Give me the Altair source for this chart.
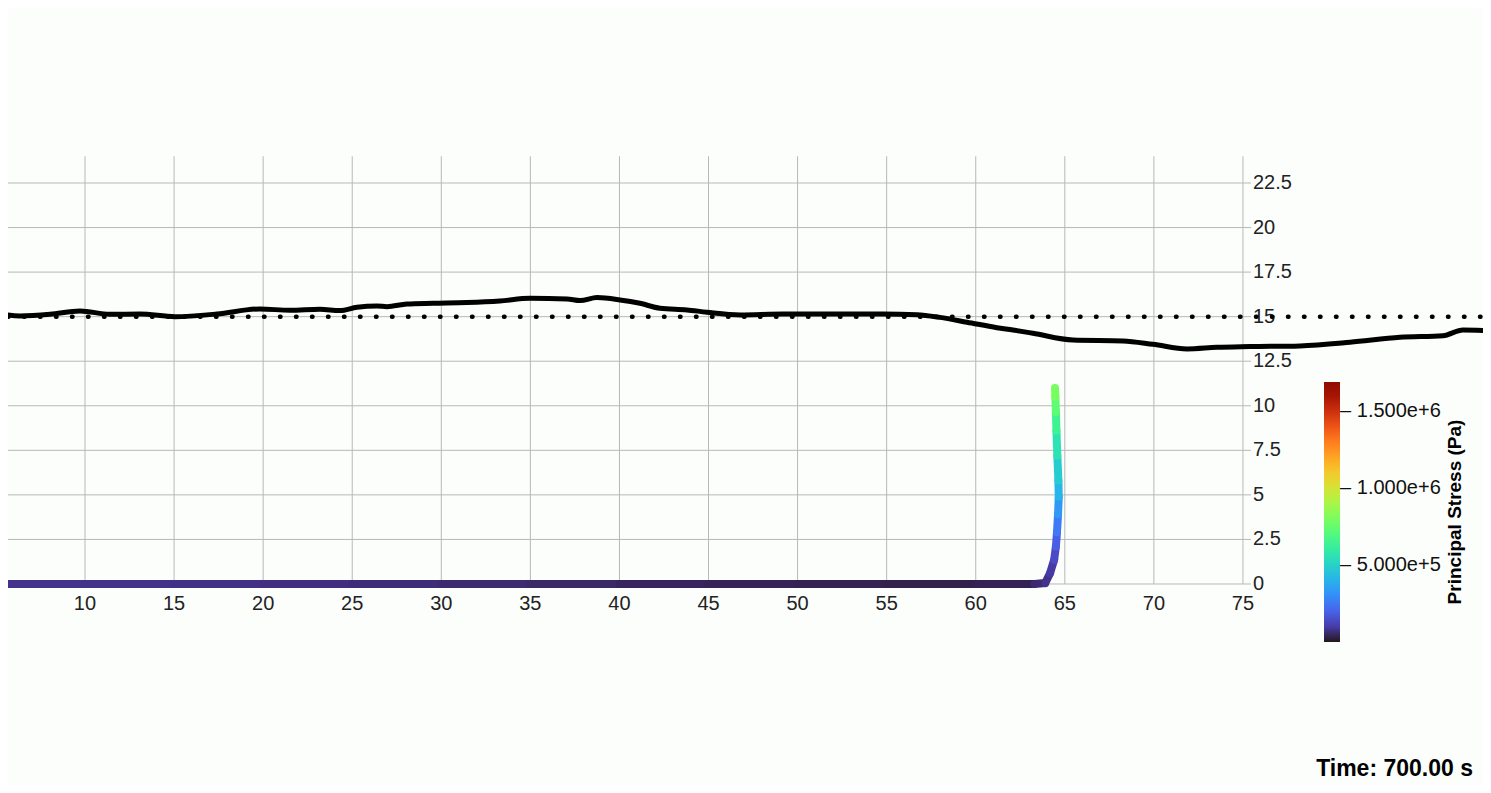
import altair as alt
import pandas as pd

# ---------------- data ----------------
# upper black profile
surf_x = [5.23, 6.35, 8.04, 9.72, 11.40, 13.09, 15.05, 17.41, 19.82, 21.51,
          23.19, 24.31, 25.27, 26.39, 26.95, 28.07, 29.53, 31.44, 33.29, 34.98,
          37.06, 37.79, 38.74, 40.03, 41.15, 42.28, 43.79, 44.91, 46.77, 49.18,
          51.99, 54.79, 56.70, 57.99, 59.51, 61.19, 62.09, 63.21, 65.46, 68.27,
          69.95, 71.86, 73.54, 75.40, 78.20, 81.01, 83.81, 86.23, 87.35, 88.92]
surf_y = [15.15, 15.04, 15.13, 15.32, 15.13, 15.15, 15.00, 15.15, 15.43, 15.36,
          15.42, 15.34, 15.53, 15.60, 15.56, 15.71, 15.75, 15.79, 15.88, 16.03,
          15.99, 15.90, 16.07, 15.94, 15.75, 15.47, 15.38, 15.25, 15.10, 15.15,
          15.15, 15.15, 15.11, 14.96, 14.69, 14.38, 14.25, 14.07, 13.69, 13.64,
          13.45, 13.19, 13.28, 13.32, 13.36, 13.56, 13.84, 13.93, 14.25, 14.21]

# dotted reference level
ref_level = [15.0]

# fracture path coloured by principal stress (Pa)
frac_x = [5.2, 10, 15, 20, 25, 30, 35, 40, 45, 50, 55, 60, 63.3,
          63.9, 64.17, 64.4, 64.5, 64.56, 64.62, 64.66, 64.64, 64.58, 64.53, 64.5, 64.47, 64.45]
frac_y = [0, 0, 0, 0, 0, 0, 0, 0, 0, 0, 0, 0, 0,
          0.05, 0.6, 1.35, 2.1, 2.9, 3.9, 4.9, 5.8, 7.2, 8.6, 9.65, 10.5, 11.0]
frac_stress = [76000, 74000, 72000, 68000, 62000, 56000, 50000, 44000, 38000, 33000, 29000, 27000, 40000,
               67600, 84500, 110000, 160000, 220000, 290000, 375000, 440000, 520000, 600000, 690000, 780000, 811200]

stress_domain = [0, 1.69e6]
legend_values = [5e5, 1e6, 1.5e6]

x_ticks = [5, 10, 15, 20, 25, 30, 35, 40, 45, 50, 55, 60, 65, 70, 75]
y_ticks = [0, 2.5, 5, 7.5, 10, 12.5, 15, 17.5, 20, 22.5]
y_tick_labels = ["0", "2.5", "5", "7.5", "10", "12.5", "15", "17.5", "20", "22.5"]
grid_top = 24
axis_x = 75

legend_title = "Principal Stress (Pa)"
time_label = "Time: 700.00 s"

# ---------------- layout ----------------
W, H = 1475, 777
X_DOMAIN = [5.678, 88.474]
Y_DOMAIN = [-11.28, 32.32]
FONT = "Liberation Sans"
GRID = "#b7b7b7"
LABEL = "#222222"

xs = alt.Scale(domain=X_DOMAIN, nice=False, zero=False)
ys = alt.Scale(domain=Y_DOMAIN, nice=False, zero=False)


def X(f):
    return alt.X(f, scale=xs, axis=None)


def Y(f):
    return alt.Y(f, scale=ys, axis=None)


# vertical grid lines
vg = pd.DataFrame({"x": [v for v in x_ticks if v >= X_DOMAIN[0]]})
vg["y0"] = 0
vg["y1"] = grid_top
vgrid = alt.Chart(vg).mark_rule(color=GRID, strokeWidth=1).encode(
    x=X("x:Q"), y=Y("y0:Q"), y2="y1:Q")

# horizontal grid lines (extend past the axis as ticks)
hg = pd.DataFrame({"y": y_ticks})
hg["x0"] = X_DOMAIN[0]
hg["x1"] = axis_x
hgrid = alt.Chart(hg).mark_rule(color=GRID, strokeWidth=1, x2Offset=8).encode(
    y=Y("y:Q"), x=X("x0:Q"), x2="x1:Q")

# axis labels
xl = pd.DataFrame({"x": x_ticks, "lab": [str(v) for v in x_ticks]})
xl["y"] = 0
xlabels = alt.Chart(xl).mark_text(
    font=FONT, fontSize=20, color=LABEL, baseline="top", align="center", dy=10
).encode(x=X("x:Q"), y=Y("y:Q"), text="lab:N")

yl = pd.DataFrame({"y": y_ticks, "lab": y_tick_labels})
yl["x"] = axis_x
ylabels = alt.Chart(yl).mark_text(
    font=FONT, fontSize=20, color=LABEL, baseline="middle", align="left", dx=10
).encode(x=X("x:Q"), y=Y("y:Q"), text="lab:N")

# dotted reference line
ref = alt.Chart(pd.DataFrame({"y": ref_level})).mark_rule(
    color="black", strokeWidth=4.5, strokeCap="round", strokeDash=[0.5, 15.5]
).encode(y=Y("y:Q"), x=alt.value(0), x2=alt.value(W))

# black profile line
surf = alt.Chart(pd.DataFrame({"x": surf_x, "y": surf_y})).mark_line(
    color="black", strokeWidth=5, strokeJoin="round", strokeCap="round", interpolate="monotone"
).encode(x=X("x:Q"), y=Y("y:Q"))

# fracture path segments
seg = pd.DataFrame({
    "x": frac_x[:-1], "y": frac_y[:-1],
    "x2": frac_x[1:], "y2": frac_y[1:],
    "stress": [(a + b) / 2 for a, b in zip(frac_stress[:-1], frac_stress[1:])],
})
seg["order"] = range(len(seg))
frac = alt.Chart(seg).mark_rule(strokeWidth=8, strokeCap="round").encode(
    x=X("x:Q"), y=Y("y:Q"), x2="x2:Q", y2="y2:Q",
    order="order:Q",
    color=alt.Color("stress:Q", scale=alt.Scale(scheme="turbo", domain=stress_domain),
                    legend=alt.Legend(
                        orient="none", legendX=1316, legendY=374, direction="vertical",
                        gradientLength=260, gradientThickness=16, gradientStrokeWidth=0,
                        values=legend_values, format=".3e",
                        labelExpr="'\u2013\u2009\u200a' + datum.label",
                        labelFont=FONT, labelFontSize=20, labelColor="#111",
                        labelOffset=0, labelOverlap=False, padding=0, title=None)),
)

title_txt = alt.Chart(pd.DataFrame({"t": [legend_title]})).mark_text(
    font=FONT, fontSize=19, fontWeight="bold", angle=270, align="center",
    baseline="alphabetic", color="black"
).encode(text="t:N", x=alt.value(1453), y=alt.value(504))

time_txt = alt.Chart(pd.DataFrame({"t": [time_label]})).mark_text(
    font=FONT, fontSize=23, fontWeight="bold", align="right",
    baseline="alphabetic", color="black"
).encode(text="t:N", x=alt.value(1465), y=alt.value(768))

chart = alt.layer(vgrid, hgrid, xlabels, ylabels, surf, ref, frac, title_txt, time_txt).properties(
    width=W, height=H, autosize=alt.AutoSizeParams(type="none"), padding=0,
    background="#fcfefc",
).configure_view(strokeWidth=0)

chart.save("out.html", embed_options={"renderer": "svg", "actions": False})
